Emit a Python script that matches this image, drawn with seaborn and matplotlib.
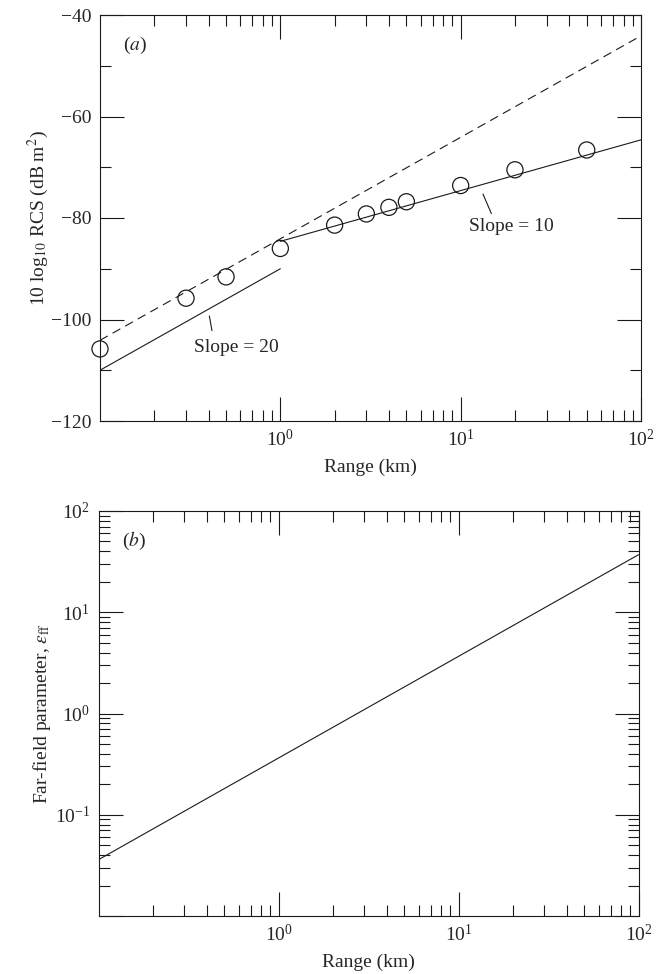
import numpy as np
import pandas as pd
import matplotlib
matplotlib.use("Agg")
import matplotlib.pyplot as plt
import seaborn as sns
from matplotlib.ticker import FixedLocator, LogFormatterMathtext, NullFormatter, MultipleLocator

# ---- data ----
range_pts = [0.1, 0.3, 0.5, 1, 2, 3, 4, 5, 10, 20, 50]
rcs_pts = [-105.8, -95.8, -91.6, -86.0, -81.4, -79.2, -77.9, -76.8, -73.6, -70.5, -66.6]

slope20_x = [0.1, 1.0]
slope20_y = [-110.0, -90.0]
slope10_x = [1.0, 100.0]
slope10_y = [-84.6, -64.6]
dashed_x = [0.1, 100.0]
dashed_y = [-104.1, -44.1]

eff_x = [0.1, 100.0]
eff_y = [0.036, 37.0]

x_major = [1, 10, 100]
x_minor = [m * d for d in (0.1, 1, 10) for m in range(2, 10)]
y2_major = [0.01, 0.1, 1, 10, 100]
y2_minor = [m * d for d in (0.01, 0.1, 1, 10) for m in range(2, 10)]

# ---- style ----
sns.set_theme(style="ticks")
plt.rcParams['font.family'] = ['Liberation Serif', 'DejaVu Serif']
plt.rcParams['mathtext.fontset'] = 'stix'
plt.rcParams['font.size'] = 14
plt.rcParams['axes.linewidth'] = 0.8

fig = plt.figure(figsize=(6.57, 9.74), dpi=100)
W, H = 657, 974
ax1 = fig.add_axes([100 / W, 1 - 421 / H, 541 / W, 406 / H])
ax2 = fig.add_axes([98.5 / W, 1 - 916 / H, 540 / W, 405 / H])

lw = 0.8

# ---- panel (a) ----
sns.lineplot(x=dashed_x, y=dashed_y, ax=ax1, color='k', lw=lw, dashes=False,
             linestyle=(0, (8, 5)))
sns.lineplot(x=slope20_x, y=slope20_y, ax=ax1, color='k', lw=lw)
sns.lineplot(x=slope10_x, y=slope10_y, ax=ax1, color='k', lw=lw)
sns.scatterplot(x=range_pts, y=rcs_pts, ax=ax1, marker='o', s=135,
                facecolor='none', edgecolor='k', linewidth=0.9, clip_on=False, zorder=5)

ax1.set_xscale('log')
ax1.set_xlim(0.1, 100)
ax1.set_ylim(-120, -40)
ax1.yaxis.set_major_locator(MultipleLocator(20))
ax1.yaxis.set_minor_locator(MultipleLocator(10))
ax1.xaxis.set_major_locator(FixedLocator(x_major))
ax1.xaxis.set_minor_locator(FixedLocator(x_minor))
ax1.xaxis.set_major_formatter(LogFormatterMathtext())
ax1.xaxis.set_minor_formatter(NullFormatter())
ax1.set_xlabel('Range (km)', fontsize=14, labelpad=6)
ax1.set_ylabel(r'10 log$_{10}$ RCS (dB m$^2$)', fontsize=14, labelpad=0)
ax1.text(0.065, 0.926, r'($a$)', transform=ax1.transAxes, fontsize=14, ha='center', va='center')

ax1.annotate('Slope = 20', xy=(0.404, -99.3), xytext=(0.571, -105.6), ha='center', va='center',
             fontsize=14,
             arrowprops=dict(arrowstyle='-', lw=0.8, color='k', relpos=(0.23, 1.0),
                             shrinkA=4, shrinkB=0))
ax1.annotate('Slope = 10', xy=(13.3, -75.3), xytext=(19.05, -81.7), ha='center', va='center',
             fontsize=14,
             arrowprops=dict(arrowstyle='-', lw=0.8, color='k', relpos=(0.29, 1.0),
                             shrinkA=1, shrinkB=0))

# ---- panel (b) ----
sns.lineplot(x=eff_x, y=eff_y, ax=ax2, color='k', lw=lw)
ax2.set_xscale('log')
ax2.set_yscale('log')
ax2.set_xlim(0.1, 100)
ax2.set_ylim(0.01, 100)
ax2.xaxis.set_major_locator(FixedLocator(x_major))
ax2.xaxis.set_minor_locator(FixedLocator(x_minor))
ax2.xaxis.set_major_formatter(LogFormatterMathtext())
ax2.xaxis.set_minor_formatter(NullFormatter())
ax2.yaxis.set_major_locator(FixedLocator(y2_major))
ax2.yaxis.set_minor_locator(FixedLocator(y2_minor))
fmt = LogFormatterMathtext()
ax2.yaxis.set_major_formatter(plt.FuncFormatter(lambda v, p: '' if v < 0.05 else fmt(v, p)))
ax2.yaxis.set_minor_formatter(NullFormatter())
ax2.set_xlabel('Range (km)', fontsize=14, labelpad=6)
ax2.set_ylabel(r'Far-field parameter, $\varepsilon_{\rm ff}$', fontsize=14, labelpad=1)
ax2.text(0.065, 0.926, r'($b$)', transform=ax2.transAxes, fontsize=14, ha='center', va='center')

for ax in (ax1, ax2):
    ax.tick_params(which='both', direction='in', top=True, right=True, color='k', width=0.8,
                   labelsize=14)
    ax.tick_params(which='major', length=17, pad=6)
    ax.tick_params(which='minor', length=8)
    for s in ax.spines.values():
        s.set_color('k')
        s.set_linewidth(0.8)

fig.savefig('out.png', dpi=100)
